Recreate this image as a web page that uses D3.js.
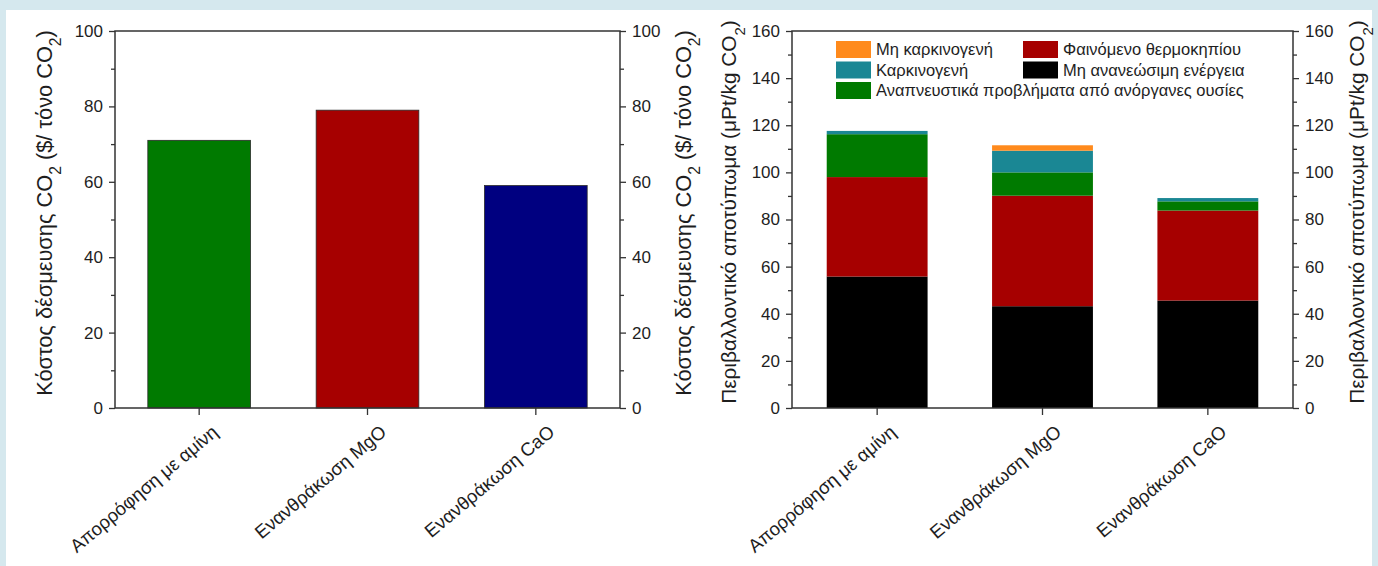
<!DOCTYPE html>
<html><head><meta charset="utf-8">
<script src="https://cdn.jsdelivr.net/npm/d3@7"></script>
<style>
html,body{margin:0;padding:0;background:#d5e8ee;}
svg{display:block;}
</style></head><body>
<svg id="c" width="1378" height="566"></svg>
<script>
// ---------- DATA ----------
const categories = ["Απορρόφηση με αμίνη", "Ενανθράκωση MgO", "Ενανθράκωση CaO"];

// Left chart: CO2 capture cost ($ / tonne CO2)
const costValues = [71, 79, 59];
const costColors = ["#007a00", "#a60000", "#000080"];
const costTicks = [0, 20, 40, 60, 80, 100];
const costMinorTicks = [10, 30, 50, 70, 90];

// Right chart: environmental footprint (μPt/kg CO2), stacked bottom -> top
const seriesNames = ["Μη ανανεώσιμη ενέργεια", "Φαινόμενο θερμοκηπίου",
  "Αναπνευστικά προβλήματα από ανόργανες ουσίες", "Καρκινογενή", "Μη καρκινογενή"];
const nonRenewableEnergy = [55.8, 43.2, 45.6];
const greenhouseEffect   = [42.2, 46.9, 38.2];
const respiratoryInorg   = [18.2, 9.9, 3.9];
const carcinogens        = [1.4, 9.2, 1.4];
const nonCarcinogens     = [0, 2.3, 0];
const seriesColors = ["#000000", "#a60000", "#007a00", "#1a8794", "#ff8a1c"];
const impactTicks = [0, 20, 40, 60, 80, 100, 120, 140, 160];
const impactMinorTicks = [10, 30, 50, 70, 90, 110, 130, 150];

// legend layout order: [row][col] -> series index
const legendRows = [[4, 1], [3, 0], [2]];

// ---------- DRAW ----------
const svg = d3.select("#c");
svg.append("rect").attr("x", 6).attr("y", 10).attr("width", 1366).attr("height", 560).attr("fill", "#ffffff");

const FONT = "'Liberation Sans', Arial, sans-serif";
const NARROW = "'Liberation Sans Narrow', 'Liberation Sans', Arial, sans-serif";
const INK = "#1e1e1e";
const yTop = 31, yBot = 408;

function fit(sel, target) {
  const fs = parseFloat(sel.attr("font-size"));
  const len = sel.node().getComputedTextLength();
  sel.attr("font-size", fs * target / len);
}

function axisTitle(g, x, yc, parts, target) {
  const t = g.append("text")
    .attr("transform", `translate(${x},${yc}) rotate(-90)`)
    .attr("text-anchor", "middle").attr("font-family", FONT)
    .attr("font-size", 18).attr("fill", INK);
  parts.forEach(p => {
    const ts = t.append("tspan").text(p.t);
    if (p.sub) ts.attr("baseline-shift", "sub").attr("font-size", "0.72em");
  });
  fit(t, target);
  return t;
}

function frame(g, x0, x1, y, ticks, minor, x) {
  const aL = d3.axisLeft(y).tickValues(ticks).tickSize(6).tickPadding(6).tickSizeOuter(0);
  const aR = d3.axisRight(y).tickValues(ticks).tickSize(6).tickPadding(6).tickSizeOuter(0);
  const mL = d3.axisLeft(y).tickValues(minor).tickSize(4).tickFormat("").tickSizeOuter(0);
  const mR = d3.axisRight(y).tickValues(minor).tickSize(4).tickFormat("").tickSizeOuter(0);
  g.append("g").attr("transform", `translate(${x0},0)`).call(aL);
  g.append("g").attr("transform", `translate(${x0},0)`).call(mL);
  g.append("g").attr("transform", `translate(${x1},0)`).call(aR);
  g.append("g").attr("transform", `translate(${x1},0)`).call(mR);
  const xb = d3.axisBottom(x).tickSize(7).tickFormat("").tickSizeOuter(0);
  g.append("g").attr("transform", `translate(0,${yBot})`).call(xb);
  g.selectAll(".domain").attr("stroke", "none");
  g.selectAll(".tick line").attr("stroke", "#333").attr("stroke-width", 1.3);
  g.selectAll(".tick text").attr("font-family", FONT).attr("font-size", 17).attr("fill", INK);
  g.append("rect").attr("x", x0).attr("y", yTop).attr("width", x1 - x0).attr("height", yBot - yTop)
    .attr("fill", "none").attr("stroke", "#333").attr("stroke-width", 1.5);
  const labels = categories.map(c => {
    const cx = x(c) + x.bandwidth() / 2;
    return g.append("text").attr("class", "xl").attr("transform", `translate(${cx + 20},${434}) rotate(-40)`)
      .attr("text-anchor", "end").attr("font-family", FONT).attr("font-size", 16).attr("fill", INK).text(c);
  });
  fit(labels[0], 186);
  g.selectAll("text.xl").attr("font-size", labels[0].attr("font-size"));
}

// ----- Left chart -----
const L = { x0: 115, x1: 620 };
const gL = svg.append("g");
const xL = d3.scaleBand().domain(categories).range([L.x0, L.x1]).paddingInner(0.39).paddingOuter(0.195);
const yL = d3.scaleLinear().domain([0, 100]).range([yBot, yTop]);
gL.selectAll("rect.bar").data(costValues).join("rect").attr("class", "bar")
  .attr("x", (d, i) => xL(categories[i])).attr("width", xL.bandwidth())
  .attr("y", d => yL(d)).attr("height", d => yL(0) - yL(d))
  .attr("fill", (d, i) => costColors[i]).attr("stroke", "#2a2a2a").attr("stroke-width", 0.8);
frame(gL, L.x0, L.x1, yL, costTicks, costMinorTicks, xL);
const costTitle = [{t: "Κόστος δέσμευσης CO"}, {t: "2", sub: true}, {t: " ($/ τόνο CO"}, {t: "2", sub: true}, {t: ")"}];
axisTitle(gL, 52, 213, costTitle, 366);
axisTitle(gL, 691, 213, costTitle, 366);

// ----- Right chart -----
const R = { x0: 792, x1: 1293 };
const gR = svg.append("g");
const xR = d3.scaleBand().domain(categories).range([R.x0, R.x1]).paddingInner(0.39).paddingOuter(0.21);
const yR = d3.scaleLinear().domain([0, 160]).range([yBot, yTop]);
const seriesData = [nonRenewableEnergy, greenhouseEffect, respiratoryInorg, carcinogens, nonCarcinogens];
const table = categories.map((c, i) => {
  const o = { cat: c };
  seriesNames.forEach((s, k) => o[s] = seriesData[k][i]);
  return o;
});
const stack = d3.stack().keys(seriesNames)(table);
gR.selectAll("g.layer").data(stack).join("g").attr("class", "layer")
  .attr("fill", (d, k) => seriesColors[k])
  .selectAll("rect").data(d => d).join("rect")
  .attr("x", d => xR(d.data.cat)).attr("width", xR.bandwidth())
  .attr("y", d => yR(d[1])).attr("height", d => yR(d[0]) - yR(d[1]));
frame(gR, R.x0, R.x1, yR, impactTicks, impactMinorTicks, xR);
const impTitle = [{t: "Περιβαλλοντικό αποτύπωμα (μPt/kg CO"}, {t: "2", sub: true}, {t: ")"}];
axisTitle(gR, 736, 212, impTitle, 384);
axisTitle(gR, 1364, 212, impTitle, 384);

// legend
const legX = [836, 1023], legY = [41, 61.5, 82];
const lg = gR.append("g");
let longest = null;
legendRows.forEach((row, r) => row.forEach((k, c) => {
  lg.append("rect").attr("x", legX[c]).attr("y", legY[r]).attr("width", 35).attr("height", 17).attr("fill", seriesColors[k]);
  const t = lg.append("text").attr("class", "lt").attr("x", legX[c] + 40).attr("y", legY[r] + 14)
    .attr("font-family", NARROW).attr("font-size", 16).attr("fill", INK).text(seriesNames[k]);
  if (k === 2) longest = t;
}));
fit(longest, 368);
lg.selectAll("text.lt").attr("font-size", longest.attr("font-size"));
</script>
</body></html>
